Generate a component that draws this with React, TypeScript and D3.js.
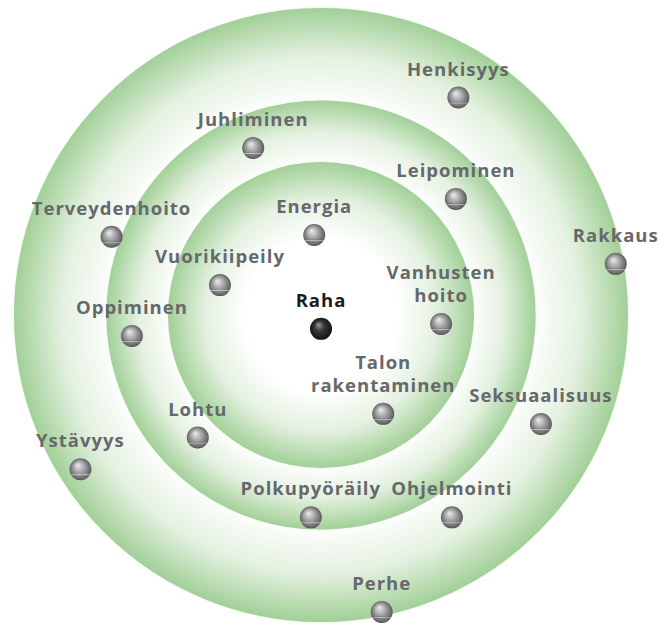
import * as d3 from 'd3';

const WIDTH = 660;
const HEIGHT = 623;
const CENTER = { x: 321, y: 315 };
const OUTER_R = 308;

// ring limits, in the same units as the points (outer ring = 100)
const ringRadii = [100, 70, 50];

const labels = [
  'Raha',
  'Energia',
  'Vuorikiipeily',
  'Vanhusten\nhoito',
  'Talon\nrakentaminen',
  'Leipominen',
  'Juhliminen',
  'Terveydenhoito',
  'Oppiminen',
  'Lohtu',
  'Polkupyöräily',
  'Ohjelmointi',
  'Seksuaalisuus',
  'Henkisyys',
  'Rakkaus',
  'Ystävyys',
  'Perhe',
];
const xValues = [0, -2.2, -32.8, 39.0, 20.2, 43.8, -22.0, -68.0, -61.4, -40.0, -3.3, 42.5, 71.4, 44.6, 95.7, -78.1, 19.7];
const yValues = [-4.5, 26.0, 9.7, -2.9, -32.1, 37.7, 54.2, 25.4, -6.8, -39.8, -65.7, -65.7, -35.4, 70.6, 16.6, -50.1, -96.4];

type Item = { label: string; x: number; y: number; main: boolean };

const items: Item[] = labels.map((label, i) => ({
  label,
  x: xValues[i],
  y: yValues[i],
  main: i === 0,
}));

const GREEN = '#a0cf96';

export default function App() {
  const xScale = d3.scaleLinear().domain([-100, 100]).range([CENTER.x - OUTER_R, CENTER.x + OUTER_R]);
  const yScale = d3.scaleLinear().domain([-100, 100]).range([CENTER.y + OUTER_R, CENTER.y - OUTER_R]);
  const rScale = d3.scaleLinear().domain([0, 100]).range([0, OUTER_R]);

  return (
    <svg
      width={WIDTH}
      height={HEIGHT}
      style={{ position: 'absolute', left: 0, top: 0, background: '#fff' }}
    >
      <defs>
        {ringRadii.map((r, i) => {
          const inner = ringRadii[i + 1];
          // white up to the next ring's edge, green at this ring's edge
          const whiteStop = inner ? (inner / r) * 0.97 : 0.5;
          return (
            <radialGradient id={`ring${i}`} key={i} cx="0.5" cy="0.5" r="0.5">
              <stop offset="0" stopColor="#ffffff" />
              <stop offset={whiteStop} stopColor="#ffffff" />
              <stop offset={whiteStop + (1 - whiteStop) * 0.5} stopColor="#e4f1e0" />
              <stop offset="1" stopColor={GREEN} />
            </radialGradient>
          );
        })}
        <radialGradient id="ball" cx="0.5" cy="0.5" r="0.55" fx="0.38" fy="0.3">
          <stop offset="0" stopColor="#eeeeee" />
          <stop offset="0.45" stopColor="#a6a6a8" />
          <stop offset="0.85" stopColor="#67676a" />
          <stop offset="1" stopColor="#505052" />
        </radialGradient>
        <radialGradient id="ballDark" cx="0.5" cy="0.5" r="0.55" fx="0.38" fy="0.3">
          <stop offset="0" stopColor="#9a9a9a" />
          <stop offset="0.4" stopColor="#3a3a3a" />
          <stop offset="1" stopColor="#0c0c0c" />
        </radialGradient>
        <linearGradient id="ballBand" x1="0" y1="0" x2="0" y2="1">
          <stop offset="0" stopColor="#000" stopOpacity="0" />
          <stop offset="0.7" stopColor="#000" stopOpacity="0" />
          <stop offset="0.74" stopColor="#fff" stopOpacity="0.55" />
          <stop offset="0.79" stopColor="#fff" stopOpacity="0" />
          <stop offset="1" stopColor="#000" stopOpacity="0.15" />
        </linearGradient>
      </defs>

      {ringRadii.map((r, i) => (
        <circle
          key={i}
          cx={xScale(0)}
          cy={yScale(0)}
          r={rScale(r)}
          fill={`url(#ring${i})`}
          stroke="#ffffff"
          strokeOpacity={0.85}
          strokeWidth={2}
        />
      ))}

      {items.map((d, i) => {
        const cx = xScale(d.x);
        const cy = yScale(d.y);
        const lines = d.label.split('\n');
        return (
          <g key={i}>
            <circle cx={cx} cy={cy} r={11} fill={d.main ? 'url(#ballDark)' : 'url(#ball)'} />
            {!d.main && <circle cx={cx} cy={cy} r={11} fill="url(#ballBand)" />}
            <text
              x={cx}
              textAnchor="middle"
              fontFamily="'Open Sans', sans-serif"
              fontWeight={700}
              fontSize={18.5}
              letterSpacing={1}
              fill={d.main ? '#1c1c1c' : '#67686b'}
            >
              {lines.map((line, j) => (
                <tspan key={j} x={cx} y={cy - 22 - (lines.length - 1 - j) * 23}>
                  {line}
                </tspan>
              ))}
            </text>
          </g>
        );
      })}
    </svg>
  );
}
